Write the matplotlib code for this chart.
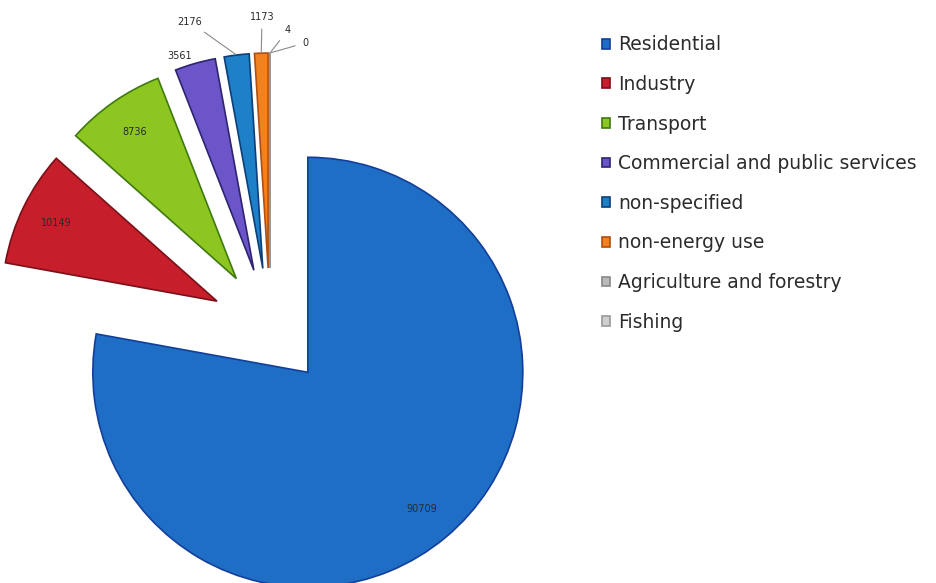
import numpy as np
import matplotlib.pyplot as plt

sectors = ['Residential', 'Industry', 'Transport', 'Commercial and public services',
           'non-specified', 'non-energy use', 'Agriculture and forestry', 'Fishing']
consumption = [90709, 10149, 8736, 3561, 2176, 1173, 4, 0]
face_colors = ['#1f6ec6', '#c61f2b', '#8dc620', '#6b55c9', '#1e80c6', '#f0831f', '#b9b9b9', '#cfcfcf']
edge_colors = ['#123f9a', '#7a1018', '#3f7a10', '#2e2470', '#0d3f7a', '#b05010', '#888888', '#999999']

# label placement for the small slices (drawn outside with leader lines)
outer_text = {3: (180, 527), 4: (190, 561), 5: (262, 566), 6: (288, 553), 7: (305, 540)}
leaders = {4, 5, 6, 7}

fig = plt.figure(figsize=(9.36, 5.83), dpi=100)
ax = fig.add_axes([0, 0, 1, 1])

radius = 215
centre = (270, 256)
# pie() takes explode in data units, so every slice is pushed out by the same distance
wedges, _ = ax.pie(consumption, colors=face_colors, startangle=90, counterclock=False,
                   explode=[59] * len(consumption), radius=radius, center=centre,
                   wedgeprops=dict(linewidth=1.2), frame=True)
ax.set_xlim(0, 936)
ax.set_ylim(0, 583)
ax.set_aspect('equal')
ax.axis('off')
for w, ec in zip(wedges, edge_colors):
    w.set_edgecolor(ec)

for i, (w, v) in enumerate(zip(wedges, consumption)):
    mid = np.deg2rad((w.theta1 + w.theta2) / 2)
    cx, cy = w.center
    if i < 3:
        ax.text(cx + 0.83 * w.r * np.cos(mid), cy + 0.83 * w.r * np.sin(mid), str(v),
                ha='center', va='center', fontsize=7, color='#2a2a2a')
    else:
        tip = (cx + w.r * np.cos(mid), cy + w.r * np.sin(mid))
        props = dict(arrowstyle='-', color='#8a8a8a', lw=0.8, shrinkA=3, shrinkB=1) \
            if i in leaders else None
        ax.annotate(str(v), xy=tip, xytext=outer_text[i], ha='center', va='center',
                    fontsize=7, color='#2a2a2a', arrowprops=props)

fig.legend(wedges, sectors, loc='upper left', bbox_to_anchor=(593 / 936, 1 - 26 / 583),
           frameon=False, labelcolor='#2b2b2b', handlelength=0.42,
           handleheight=0.42, handletextpad=0.4, labelspacing=1.1, borderpad=0,
           prop={'family': 'DejaVu Sans', 'size': 13.5})

fig.savefig('out.png', dpi=100)
